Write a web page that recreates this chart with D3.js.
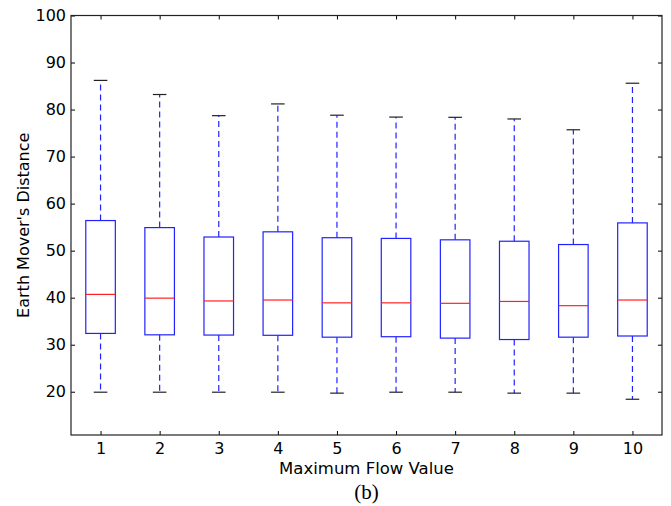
<!DOCTYPE html>
<html>
<head>
<meta charset="utf-8">
<script src="https://cdn.jsdelivr.net/npm/d3@7"></script>
<style>
  html, body { margin: 0; padding: 0; background: #fff; }
  svg { display: block; }
  .tick text { font-family: "DejaVu Sans", sans-serif; font-size: 16px; fill: #000; }
</style>
</head>
<body>
<script>
// box plot values
const categories = [1, 2, 3, 4, 5, 6, 7, 8, 9, 10]
const whiskerLow = [19.9, 19.9, 19.9, 19.9, 19.7, 19.9, 19.9, 19.7, 19.7, 18.4]
const q1 = [32.4, 32.1, 32.05, 32.0, 31.6, 31.7, 31.4, 31.1, 31.6, 31.85]
const median = [40.7, 39.9, 39.3, 39.5, 38.9, 38.9, 38.8, 39.2, 38.3, 39.5]
const q3 = [56.4, 54.9, 52.9, 54.0, 52.75, 52.6, 52.3, 52.0, 51.3, 55.9]
const whiskerHigh = [86.2, 83.2, 78.7, 81.2, 78.8, 78.4, 78.35, 78.0, 75.7, 85.6]
const yTicks = [20, 30, 40, 50, 60, 70, 80, 90, 100]

const W = 671, H = 506
const margin = { top: 15.5, right: 9, bottom: 71, left: 71 }

const svg = d3.select('body').append('svg')
  .attr('width', W)
  .attr('height', H)

const x = d3.scaleLinear()
  .domain([0.5, 10.5])
  .range([margin.left, W - margin.right])

const y = d3.scaleLinear()
  .domain([10.8, 100])
  .range([H - margin.bottom, margin.top])

const boxes = categories.map((c, i) => ({
  c, lo: whiskerLow[i], q1: q1[i], med: median[i], q3: q3[i], hi: whiskerHigh[i],
}))

const boxW = x(1.25) - x(1)
const capW = x(1.115) - x(1)

const g = svg.append('g')

// whiskers
g.selectAll('.wlo').data(boxes).join('line')
  .attr('x1', d => x(d.c)).attr('x2', d => x(d.c))
  .attr('y1', d => y(d.q1)).attr('y2', d => y(d.lo))
  .attr('stroke', '#2222ff').attr('stroke-width', 1.2).attr('stroke-dasharray', '6,4')
g.selectAll('.whi').data(boxes).join('line')
  .attr('x1', d => x(d.c)).attr('x2', d => x(d.c))
  .attr('y1', d => y(d.q3)).attr('y2', d => y(d.hi))
  .attr('stroke', '#2222ff').attr('stroke-width', 1.2).attr('stroke-dasharray', '6,4')

// caps
const caps = boxes.flatMap(d => [{ c: d.c, v: d.lo }, { c: d.c, v: d.hi }])
g.selectAll('.cap').data(caps).join('line')
  .attr('x1', d => x(d.c) - capW).attr('x2', d => x(d.c) + capW)
  .attr('y1', d => y(d.v)).attr('y2', d => y(d.v))
  .attr('stroke', '#222').attr('stroke-width', 1.2)

// boxes
g.selectAll('.box').data(boxes).join('rect')
  .attr('x', d => x(d.c) - boxW)
  .attr('width', boxW * 2)
  .attr('y', d => y(d.q3))
  .attr('height', d => y(d.q1) - y(d.q3))
  .attr('fill', 'none')
  .attr('stroke', '#2222ff').attr('stroke-width', 1.2)

// medians
g.selectAll('.med').data(boxes).join('line')
  .attr('x1', d => x(d.c) - boxW).attr('x2', d => x(d.c) + boxW)
  .attr('y1', d => y(d.med)).attr('y2', d => y(d.med))
  .attr('stroke', '#ff2222').attr('stroke-width', 1.2)

// axes, ticks inward on all four sides
const [x0, x1] = x.range()
const [y0, y1] = y.range()

svg.append('g')
  .attr('transform', `translate(0,${y0})`)
  .call(d3.axisBottom(x).tickValues(categories).tickSize(-4).tickPadding(8).tickFormat(d3.format('d')))
  .call(a => a.select('.domain').remove())
svg.append('g')
  .attr('transform', `translate(0,${y1})`)
  .call(d3.axisTop(x).tickValues(categories).tickSize(-4).tickFormat(''))
  .call(a => a.select('.domain').remove())
svg.append('g')
  .attr('transform', `translate(${x0},0)`)
  .call(d3.axisLeft(y).tickValues(yTicks).tickSize(-4).tickPadding(5))
  .call(a => a.select('.domain').remove())
svg.append('g')
  .attr('transform', `translate(${x1},0)`)
  .call(d3.axisRight(y).tickValues(yTicks).tickSize(-4).tickFormat(''))
  .call(a => a.select('.domain').remove())

svg.selectAll('.tick line').attr('stroke', '#000')

svg.append('rect')
  .attr('x', x0).attr('y', y1)
  .attr('width', x1 - x0).attr('height', y0 - y1)
  .attr('fill', 'none').attr('stroke', '#222').attr('stroke-width', 1.2)

// labels
svg.append('text')
  .attr('x', (x0 + x1) / 2).attr('y', 474)
  .attr('text-anchor', 'middle')
  .style('font-family', '"DejaVu Sans", sans-serif').style('font-size', '16.5px')
  .text('Maximum Flow Value')

svg.append('text')
  .attr('transform', `translate(29,${(y0 + y1) / 2}) rotate(-90)`)
  .attr('text-anchor', 'middle')
  .style('font-family', '"DejaVu Sans", sans-serif').style('font-size', '16px')
  .text("Earth Mover's Distance")

svg.append('text')
  .attr('x', (x0 + x1) / 2).attr('y', 499)
  .attr('text-anchor', 'middle')
  .style('font-family', '"Liberation Serif", "Times New Roman", serif').style('font-size', '21px')
  .text('(b)')
</script>
</body>
</html>
